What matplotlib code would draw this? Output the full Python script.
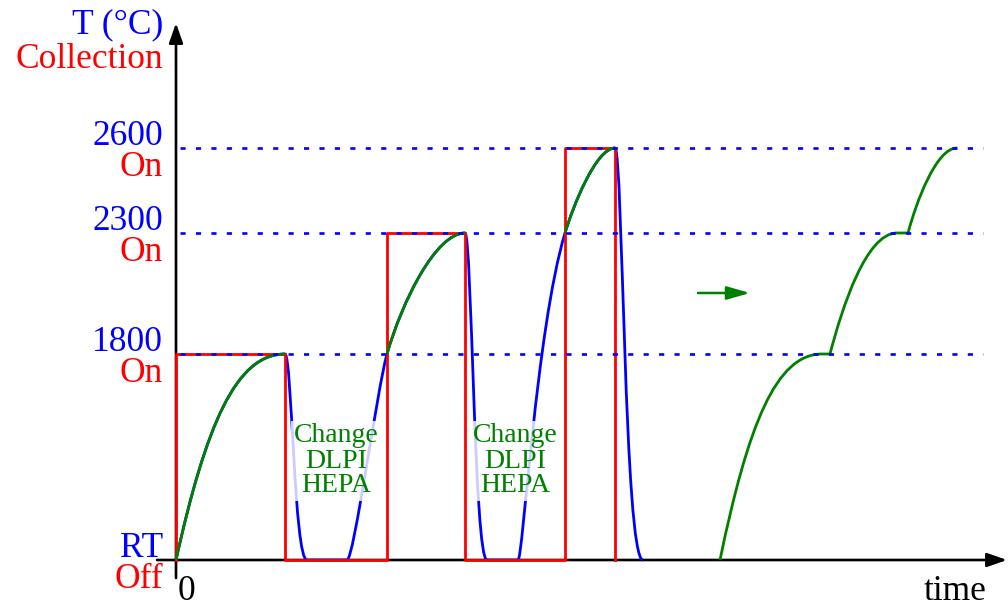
import matplotlib
matplotlib.use("Agg")
from matplotlib import pyplot as plt
from matplotlib.path import Path
from matplotlib.patches import PathPatch

plt.rcParams["font.family"] = ["Liberation Serif", "DejaVu Serif"]

BLUE = "#0000ff"
RED = "#ff0000"
GREEN = "#008000"

# schematic heights of the temperature levels on the drawing
level_y = [0, 206, 327, 412]
temp_labels = ["RT", "1800", "2300", "2600"]
coll_labels = ["Off", "On", "On", "On"]

# collection on/off: switching times and height after each switch
coll_t = [0, 0, 109, 211, 289, 389, 439]
coll_y = [0, 206, 0, 327, 0, 412, 0]

# temperature curve, pieces of 2 points (straight) or 4 points (cubic Bezier)
heat1 = [(0, 0), (30, 135), (60, 206), (109, 206)]
cool1 = [(109, 206), (116, 206), (118, 0), (131, 0)]
wait1 = [(131, 0), (171, 0)]
heat2a = [(171, 0), (178, 0), (201, 171), (211, 206)]
heat2b = [(211, 206), (226, 258.5), (260, 327), (289, 327)]
cool2 = [(289, 327), (296, 327), (298, 0), (311, 0)]
wait2 = [(311, 0), (342, 0)]
heat3a = [(342, 0), (347, 0), (360, 230), (389, 327)]
heat3b = [(389, 327), (397, 353.7), (420, 412), (439, 412)]
cool3 = [(439, 412), (447, 412), (448, 0), (467, 0)]

temp_curve = [heat1, cool1, wait1, heat2a, heat2b, cool2, wait2,
              heat3a, heat3b, cool3]
coll_on_parts = [heat1, heat2b, heat3b]

# equivalent continuous ramp
ramp1 = [(544, 0), (572, 135), (600, 206), (646, 206)]
hold1 = [(646, 206), (654, 206)]
ramp2 = [(654, 206), (666, 252), (690, 327), (721, 327)]
hold2 = [(721, 327), (732, 327)]
ramp3 = [(732, 327), (740, 357), (760, 412), (781, 412)]
ramp = [ramp1, hold1, ramp2, hold2, ramp3]


def make_path(pieces):
    verts = [pieces[0][0]]
    codes = [Path.MOVETO]
    for p in pieces:
        if len(p) == 4:
            verts += p[1:]
            codes += [Path.CURVE4] * 3
        else:
            verts.append(p[1])
            codes.append(Path.LINETO)
    return Path(verts, codes)


fig = plt.figure(figsize=(10.08, 6.06), dpi=100)
ax = fig.add_axes([0, 0, 1, 1])
ax.set_xlim(-176, 832)
ax.set_ylim(-46, 560)
ax.axis("off")

# axes with arrows
ax.annotate("", xy=(0, 537), xytext=(0, -18),
            arrowprops=dict(arrowstyle="-|>,head_length=1.2,head_width=0.42",
                            color="black", lw=1.9, shrinkA=0, shrinkB=0),
            zorder=1)
ax.annotate("", xy=(831, 0), xytext=(-19, 0),
            arrowprops=dict(arrowstyle="-|>,head_length=1.2,head_width=0.42",
                            color="black", lw=1.9, shrinkA=0, shrinkB=0),
            zorder=1)

# temperature curve
ax.add_patch(PathPatch(make_path(temp_curve), fill=False, ec=BLUE, lw=2.0,
                       zorder=2))
# collection
ax.step(coll_t, coll_y, where="post", color=RED, lw=2.0, zorder=3)
# collection on parts of the temperature curve
for part in coll_on_parts:
    ax.add_patch(PathPatch(make_path([part]), fill=False, ec=GREEN, lw=2.0,
                           zorder=4))
ax.add_patch(PathPatch(make_path(ramp), fill=False, ec=GREEN, lw=2.0, zorder=4))

# level lines
ax.hlines(level_y[1:], 4, 807, colors=BLUE, lw=1.9,
          linestyles=(0, (1.95, 3.9)), zorder=5)

# labels on the left
for y, t, c in zip(level_y, temp_labels, coll_labels):
    ax.text(-13, y + 3, t, color=BLUE, fontsize=25.5, ha="right", va="baseline")
    ax.text(-13, y - 28, c, color=RED, fontsize=25.5, ha="right", va="baseline")
ax.text(-13, 527, "T (°C)", color=BLUE, fontsize=25.5, ha="right",
        va="baseline")
ax.text(-13, 492, "Collection", color=RED, fontsize=25.5, ha="right",
        va="baseline")
ax.text(2, -40, "0", fontsize=25.5, ha="left", va="baseline")
ax.text(811, -40, "time", fontsize=25.5, ha="right", va="baseline")

# filter change notes in the off intervals
for t0, t1 in [(coll_t[2], coll_t[3]), (coll_t[4], coll_t[5])]:
    ax.text((t0 + t1) / 2, 99, "Change\nDLPI\nHEPA", color=GREEN, fontsize=20,
            ha="center", va="center", linespacing=1.0, zorder=2.5,
            bbox=dict(boxstyle="square,pad=0.1", fc="white", ec="none",
                      alpha=0.8))

# arrow towards the continuous ramp
ax.annotate("", xy=(574, 267), xytext=(522, 267),
            arrowprops=dict(arrowstyle="-|>,head_length=1.4,head_width=0.4",
                            color=GREEN, lw=1.8, shrinkA=0, shrinkB=0))

fig.savefig("out.png", dpi=100)
